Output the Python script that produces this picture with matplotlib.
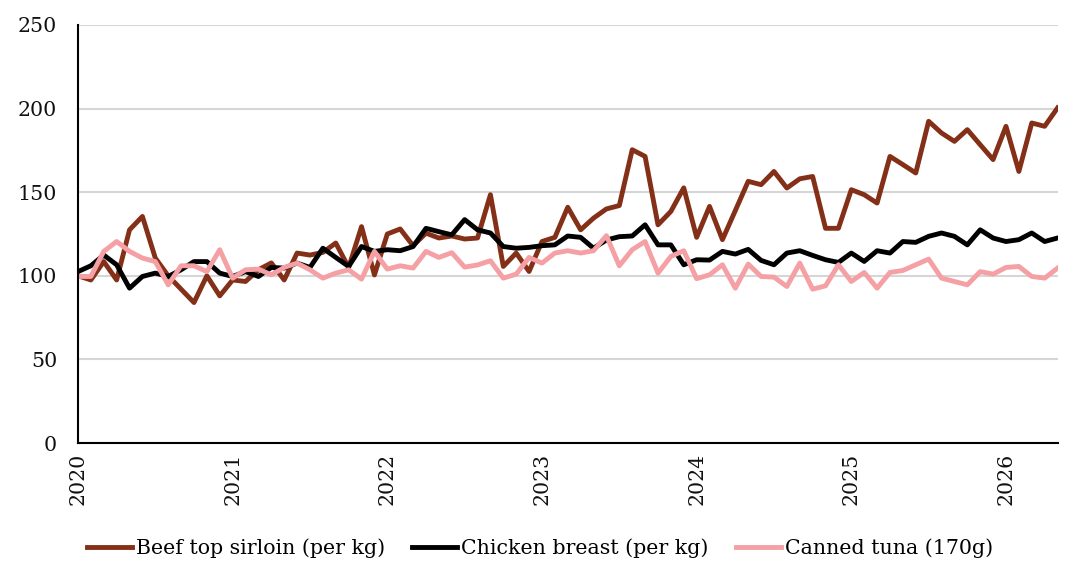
import numpy as np
import matplotlib
matplotlib.use("Agg")
import matplotlib.pyplot as plt

# monthly index, Jan 2020 = 100
beef = [100, 97.5, 108.5, 97.5, 127.5, 135.5, 110.6, 100, 92, 84, 100, 88, 97.5, 96.6, 103.6, 107.7,
        97.5, 113.6, 112.4, 114, 119.6, 105, 129.4, 100.5, 125, 128, 118, 125.5, 122.6, 123.8, 122, 122.6,
        148.5, 105.6, 113.6, 102.6, 120.5, 123, 141, 127.5, 134.5, 140, 142, 175.4, 171.4, 130.5, 138.5, 152.6,
        123, 141.5, 121.6, 139, 156.5, 154.5, 162.4, 152.5, 158, 159.4, 128.4, 128.4, 151.5, 148.5, 143.5, 171.4,
        166.5, 161.5, 192.4, 185.4, 180.4, 187.4, 178.4, 169.5, 189.4, 162.4, 191.4, 189.4, 200.4]
chicken = [102.5, 106, 112.4, 106.6, 92.6, 99.6, 101.6, 99.6, 103.6, 108.5, 108.5, 101.6, 99.6, 102.5, 99.6, 105,
           104.6, 107.6, 105, 116.5, 111, 105.6, 117.5, 114.6, 115.6, 115, 117.5, 128.4, 126.4, 124.5, 133.6, 127.5,
           125.6, 117.5, 116.5, 117, 118, 118.5, 123.8, 123, 116.5, 121.4, 123.4, 123.8, 130.5, 118.5, 118.5, 106.6,
           109.6, 109.4, 114.6, 113, 115.8, 109.2, 106.6, 113.6, 115, 112.2, 109.6, 108, 113.6, 108.6, 115, 113.6,
           120.5, 120, 123.6, 125.6, 123.6, 118.5, 127.5, 122.6, 120.5, 121.6, 125.6, 120.5, 122.6]
tuna = [99.6, 99.6, 114.6, 120.5, 114.6, 110.6, 108.5, 94.6, 106, 106, 102.5, 115.6, 98.6, 103.6, 104, 100.6,
        105, 107.6, 103.6, 98.6, 101.6, 103.6, 98, 114.6, 104, 106, 104.6, 114.6, 111, 113.8, 105.2, 106.5,
        109, 98.6, 101, 111, 107.6, 113.6, 115, 113.6, 115, 124, 106, 115.6, 120.5, 101.6, 111.6, 115,
        98.3, 100.6, 106.6, 92.6, 107, 99.6, 99.2, 93.6, 107.6, 92, 94, 106.6, 96.6, 102, 92.6, 102,
        103.2, 106.6, 110, 98.6, 96.6, 94.6, 102.5, 101, 105, 105.6, 99.6, 98.6, 104.6]
labels = ["Beef top sirloin (per kg)", "Chicken breast (per kg)", "Canned tuna (170g)"]
years = [2020, 2021, 2022, 2023, 2024, 2025, 2026]

x = 2020 + np.arange(len(beef)) / 12

plt.rcParams['font.family'] = ['DejaVu Serif']

fig = plt.figure(figsize=(10.8, 5.81), dpi=100)
ax = fig.add_axes([0.0722, 0.2375, 0.907, 0.7195])

ax.plot(x, beef, color='#843018', lw=3.5, label=labels[0])
ax.plot(x, chicken, color='#000000', lw=3.5, label=labels[1])
ax.plot(x, tuna, color='#F4A0A4', lw=3.5, label=labels[2])

ax.set_xlim(x[0], x[-1])
ax.set_ylim(0, 250)
ax.set_yticks([0, 50, 100, 150, 200, 250])
ax.set_xticks(years)
ax.set_xticklabels([str(y) for y in years], rotation=90, va='top', ha='center')
ax.tick_params(axis='both', length=0, labelsize=14.8, colors='#111111')
ax.tick_params(axis='y', pad=15)
ax.tick_params(axis='x', pad=7)

ax.grid(axis='y', color='#d6d6d6', lw=1.5)
ax.set_axisbelow(True)
for s in ['top', 'right']:
    ax.spines[s].set_visible(False)
ax.spines['left'].set_linewidth(1.5)
ax.spines['bottom'].set_linewidth(1.5)

fig.legend(loc='lower center', bbox_to_anchor=(0.5, 0.008), ncol=3, frameon=False,
           fontsize=14.8, handlelength=2.2, handletextpad=0.2, columnspacing=1.3)

fig.savefig('out.png', dpi=100)
